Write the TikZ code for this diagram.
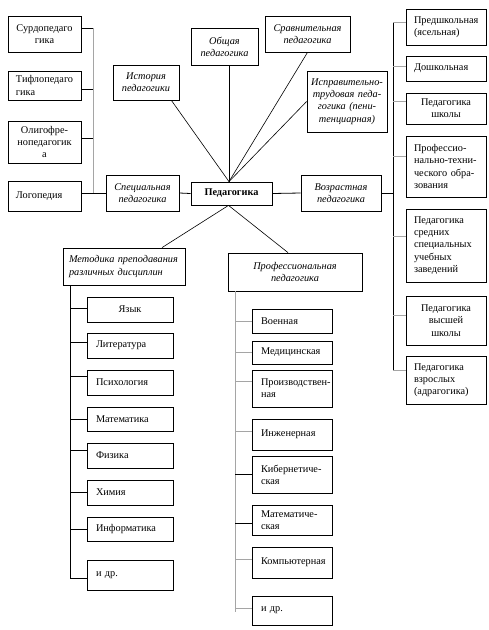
\documentclass[tikz,border=0pt]{standalone}
\usepackage{fontspec}
\setmainfont{Liberation Serif}
\usetikzlibrary{calc}
\definecolor{lgray}{RGB}{165,165,165}
\exhyphenpenalty=10000
\hyphenpenalty=10000
\newcommand\bx[8]{%
  \pgfmathsetmacro\bxW{#4-#2}\pgfmathsetmacro\bxH{#5-#3}%
  \pgfmathsetmacro\bxT{#4-#2-2*#7}%
  \pgfmathsetmacro\bxX{(#2+#4)/2}\pgfmathsetmacro\bxY{(#3+#5)/2}%
  \node[box, align=#6, inner xsep=#7pt, text width=\bxT pt, minimum width=\bxW pt, minimum height=\bxH pt] (#1) at (\bxX,\bxY) {#8};}
\begin{document}
\begin{tikzpicture}[x=1pt,y=-1pt,
  box/.style={draw, line width=0.8pt, inner ysep=1pt, font=\fontsize{10.3}{12.2}\selectfont},
  ln/.style={line width=0.8pt},
  gl/.style={line width=1pt, draw=lgray},
  dg/.style={line width=0.6pt}]
\useasboundingbox (0,0) rectangle (489,630);
% left column
\bx{surdo}{8}{16}{81}{52}{center}{3}{\mbox{Сурдопедаго}\\гика}
\bx{tiflo}{8}{71}{81}{100}{left}{8}{\mbox{Тифлопедаго}\\гика}
\bx{oligo}{8}{121}{81}{163}{center}{3}{\mbox{Олигофре-}\\\mbox{нопедагогик}\\а}
\bx{logo}{8}{181}{81}{211}{left}{8}{Логопедия}
% central
\bx{spec}{106}{175}{179}{211}{center}{3}{\itshape Специальная\\педагогика}
\bx{ped}{191}{182}{272}{205}{center}{3}{\bfseries Педагогика}
\bx{hist}{113}{65}{179}{100}{center}{3}{\itshape История\\педагогики}
\bx{obsh}{191}{28}{258}{65}{center}{3}{\itshape Общая\\педагогика}
\bx{srav}{265}{16}{350}{52}{center}{3}{\itshape Сравнительная\\педагогика}
\bx{ispr}{307}{71}{387}{132}{center}{2}{\itshape \mbox{Исправительно-}\\\mbox{трудовая педа-}\\\mbox{гогика (пени-}\\тенциарная)}
\bx{vozr}{301}{175}{381}{211}{center}{3}{\itshape Возрастная\\педагогика}
\bx{metod}{63}{248}{185}{285}{left}{6}{\itshape \mbox{Методика преподавания}\\различных дисциплин}
\bx{prof}{228}{253}{362}{291}{center}{3}{\itshape Профессиональная\\педагогика}
% right column
\bx{r1}{406}{9}{486}{45}{left}{8}{\mbox{Предшкольная}\\(ясельная)}
\bx{r2}{406}{56}{486}{81}{left}{8}{Дошкольная}
\bx{r3}{406}{93}{486}{124}{center}{4}{Педагогика\\школы}
\bx{r4}{406}{136}{486}{197}{left}{8}{\mbox{Профессио-}\\\mbox{нально-техни-}\\\mbox{ческого обра-}\\зования}
\bx{r5}{406}{209}{486}{282}{left}{8}{Педагогика\\средних\\\mbox{специальных}\\учебных\\заведений}
\bx{r6}{406}{296}{486}{345}{center}{4}{Педагогика\\высшей\\школы}
\bx{r7}{406}{356}{486}{404}{left}{8}{Педагогика\\взрослых\\\mbox{(адрагогика)}}
% methods
\bx{m1}{87}{297}{173}{322}{center}{4}{Язык}
\bx{m2}{87}{333}{173}{358}{left}{9}{Литература}
\bx{m3}{87}{370}{173}{395}{left}{9}{Психология}
\bx{m4}{87}{407}{173}{431}{left}{9}{Математика}
\bx{m5}{87}{443}{173}{468}{left}{9}{Физика}
\bx{m6}{87}{480}{173}{505}{left}{9}{Химия}
\bx{m7}{87}{517}{173}{541}{left}{9}{\mbox{Информатика}}
\bx{m8}{87}{560}{173}{590}{left}{9}{и др.}
% professional
\bx{p1}{252}{309}{332}{333}{left}{9}{Военная}
\bx{p2}{252}{341}{332}{364}{left}{9}{\mbox{Медицинская}}
\bx{p3}{252}{370}{332}{407}{left}{9}{\mbox{Производствен-}\\ная}
\bx{p4}{252}{419}{332}{450}{left}{9}{Инженерная}
\bx{p5}{252}{456}{332}{493}{left}{9}{\mbox{Кибернетиче-}\\ская}
\bx{p6}{252}{505}{332}{535}{left}{9}{\mbox{Математиче-}\\ская}
\bx{p7}{252}{547}{332}{578}{left}{9}{\mbox{Компьютерная}}
\bx{p8}{252}{596}{332}{625}{left}{9}{и др.}
% buses
\coordinate (lb) at (93,0);
\coordinate (rb) at (393,0);
\coordinate (mb) at (70,0);
\coordinate (pb) at (235,0);
% left bus
\draw[gl] ([yshift=6pt]surdo.east -| lb) -- (spec.west -| lb);
\foreach \n/\o in {surdo/6,tiflo/-3.5,oligo/4}
  \draw[ln] ([yshift=\o pt]\n.east) -- ([yshift=\o pt]\n.east -| lb);
\draw[ln] (logo.east |- spec.west) -- (spec.west);
\draw[ln] (spec.east) -- (ped.west);
\draw[ln] (ped.east) -- (vozr.west);
% right bus
\draw[ln] (vozr.east) -- (vozr.east -| rb);
\draw[ln] ([yshift=5pt]r1.west -| rb) -- ([yshift=10pt]r7.west -| rb);
\foreach \n/\o in {r1/5,r2/2.5,r3/7.5,r4/10.5,r5/9.5,r6/5.5,r7/10}
  \draw[gl] ([yshift=\o pt]\n.west) -- ([yshift=\o pt]\n.west -| rb);
% methods bus
\draw[ln] (metod.south -| mb) -- ([yshift=-3pt]m8.west -| mb);
\foreach \n/\o in {m1/1.5,m2/3.5,m3/6.5,m4/0,m5/5.5,m6/0.5,m7/0,m8/-3}
  \draw[ln] ([yshift=\o pt]\n.west) -- ([yshift=\o pt]\n.west -| mb);
% professional bus
\draw[gl] (prof.south -| pb) -- ([yshift=-1.5pt]p8.west -| pb);
\foreach \n/\o in {p1/0,p2/0.5,p3/7.5,p4/3.5,p7/3.5,p8/2.5}
  \draw[gl] ([yshift=\o pt]\n.west) -- ([yshift=\o pt]\n.west -| pb);
\foreach \n/\o in {p5/0.5,p6/-3}
  \draw[ln] ([yshift=\o pt]\n.west) -- ([yshift=\o pt]\n.west -| pb);
% diagonals
\coordinate (ht) at ([xshift=-2.5pt]ped.north);
\coordinate (hb) at ([xshift=-3pt]ped.south);
\draw[dg] (ht) -- ([xshift=-8pt]hist.south east);
\draw[ln] (ht) -- (obsh.south -| ht);
\draw[dg] (ht) -- (srav.south);
\draw[dg] (ht) -- (ispr.west);
\draw[dg] (hb) -- ([xshift=38pt]metod.north);
\draw[dg] (hb) -- ([xshift=-7pt]prof.north);
\end{tikzpicture}
\end{document}
